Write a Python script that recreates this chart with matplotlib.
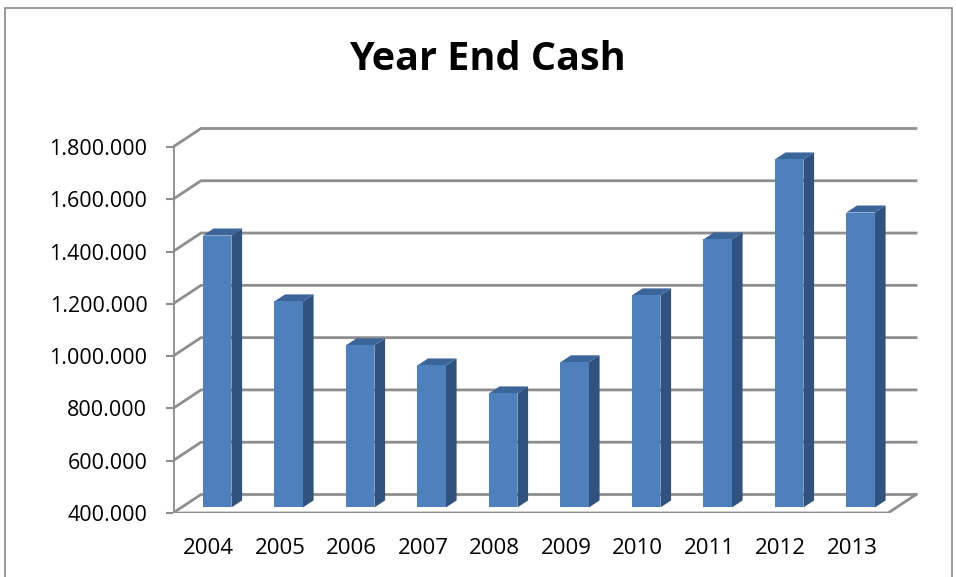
"""
Year End Cash — Excel style 3D column chart nagebouwd in matplotlib.
"""
import matplotlib
matplotlib.use("Agg")
import matplotlib.pyplot as plt
from matplotlib.patches import Polygon, Rectangle

# ── data ────────────────────────────────────────────────────────────────
years = ["2004", "2005", "2006", "2007", "2008", "2009", "2010", "2011", "2012", "2013"]
cash = [1440000, 1188000, 1020000, 943000, 836000, 955000, 1211000, 1425000, 1731000, 1528000]
y_ticks = [400000, 600000, 800000, 1000000, 1200000, 1400000, 1600000, 1800000]

# ── stijl / 3D geometrie ────────────────────────────────────────────────
FONT = ["Open Sans", "DejaVu Sans"]
GRID_C = "#8e8e8e"
FRONT_C = "#4d80bd"
SIDE_C = "#30527f"
TOP_C = "#3c659a"
DX = 28 / 71.5            # diepte-offset in categorie-eenheden
DY = 18.5 / 52.29 * 200000  # diepte-offset in waarde-eenheden
BAR_W = 0.40
D0, D1 = 0.30, 0.68       # voor-/achterkant van de balk (fractie van diepte)
Y0 = y_ticks[0]

plt.rcParams["font.family"] = FONT

fig = plt.figure(figsize=(9.56, 5.77), dpi=100)
ax = fig.add_axes([173 / 956, (577 - 513) / 577, 745 / 956, 393 / 577])
ax.set_xlim(-0.5, -0.5 + 745 / 71.5)
ax.set_ylim(Y0, Y0 + 393 / 52.29 * 200000)
for s in ax.spines.values():
    s.set_visible(False)
ax.patch.set_visible(False)

n = len(years)
x_left, x_right = -0.5, n - 0.5

# achterwand-rasterlijnen + diagonaal op linkerwand
for t in y_ticks:
    ax.plot([x_left, x_left + DX, x_right + DX], [t, t + DY, t + DY],
            color=GRID_C, lw=2.0, solid_joinstyle="miter", zorder=1)

# vloer voorkant + rechterzijde
ax.plot([x_left, x_right, x_right + DX], [Y0, Y0, Y0 + DY],
        color=GRID_C, lw=2.0, solid_joinstyle="miter", zorder=1)
# verticale as
ax.plot([x_left, x_left], [Y0, y_ticks[-1]], color=GRID_C, lw=2.0, zorder=1)

# balken
for i, v in enumerate(cash):
    xl, xr = i - BAR_W / 2, i + BAR_W / 2
    f = [(xl + D0 * DX, Y0 + D0 * DY), (xr + D0 * DX, Y0 + D0 * DY),
         (xr + D0 * DX, v + D0 * DY), (xl + D0 * DX, v + D0 * DY)]
    side = [(xr + D0 * DX, Y0 + D0 * DY), (xr + D1 * DX, Y0 + D1 * DY),
            (xr + D1 * DX, v + D1 * DY), (xr + D0 * DX, v + D0 * DY)]
    top = [(xl + D0 * DX, v + D0 * DY), (xr + D0 * DX, v + D0 * DY),
           (xr + D1 * DX, v + D1 * DY), (xl + D1 * DX, v + D1 * DY)]
    ax.add_patch(Polygon(side, closed=True, fc=SIDE_C, ec="none", zorder=3))
    ax.add_patch(Polygon(top, closed=True, fc=TOP_C, ec="none", zorder=3))
    ax.add_patch(Polygon(f, closed=True, fc=FRONT_C, ec="none", zorder=4))

# assen / labels
ax.set_yticks(y_ticks)
ax.set_yticklabels([f"{t:,}".replace(",", ".") for t in y_ticks])
ax.set_xticks(range(n))
ax.set_xticklabels(years)
ax.tick_params(axis="y", direction="out", length=5, width=1.5, color=GRID_C,
               pad=13.5, labelsize=15.5, labelcolor="black")
ax.tick_params(axis="x", length=0, pad=18, labelsize=16, labelcolor="black")

fig.text(487 / 956, 1 - 59 / 577, "Year End Cash", ha="center", va="center",
         fontsize=28.5, fontweight="bold", family=FONT)

# buitenrand van de grafiek
fig.add_artist(Rectangle((5 / 956, -0.02), 947 / 956, 1.02 - 8 / 577,
                         transform=fig.transFigure, fill=False,
                         ec="#8a8a8a", lw=1.2))

fig.savefig("out.png", dpi=100)
